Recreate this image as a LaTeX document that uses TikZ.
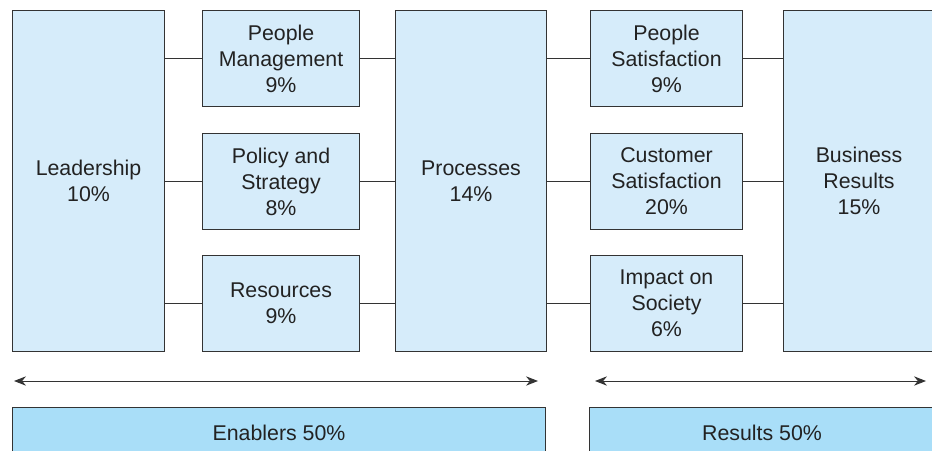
\documentclass[tikz,border=0pt]{standalone}
\usepackage{fontspec}
\setmainfont{Liberation Sans}
\usetikzlibrary{positioning,arrows.meta}
\definecolor{boxblue}{HTML}{D6ECFA}
\definecolor{barblue}{HTML}{A9DEF8}
\definecolor{edgegray}{HTML}{333333}
\definecolor{textgray}{HTML}{222222}
\tikzset{
  critbox/.style={draw=edgegray,fill=boxblue,line width=0.8pt,anchor=north west,inner sep=0pt,align=center,text=textgray,font=\fontsize{16}{19.5}\selectfont},
  barbox/.style={draw=edgegray,fill=barblue,line width=0.8pt,anchor=north west,inner sep=0pt,align=center,text=textgray,font=\fontsize{16}{19.5}\selectfont},
  link/.style={draw=edgegray,line width=0.9pt},
  span/.style={draw=edgegray,line width=0.7pt,{Stealth[length=9pt,width=7pt]}-{Stealth[length=9pt,width=7pt]}}
}
\begin{document}
\begin{tikzpicture}[x=0.75pt,y=0.75pt,yscale=-1,xscale=1]
\useasboundingbox (0,0) rectangle (932,450);
\clip (0,0) rectangle (932,450);

% Enablers
\draw (12,10) node [critbox,minimum width=114pt,minimum height=255.75pt] (lead) {Leadership\\10\%};
\draw (202,10) node [critbox,minimum width=117.75pt,minimum height=72pt] (peopman) {People\\Management\\9\%};
\draw (202,133) node [critbox,minimum width=117.75pt,minimum height=72pt] (policy) {Policy and\\Strategy\\8\%};
\draw (202,255) node [critbox,minimum width=117.75pt,minimum height=72pt] (resrc) {Resources\\9\%};
\draw (395,10) node [critbox,minimum width=113.25pt,minimum height=255.75pt] (proc) {Processes\\14\%};

% Results
\draw (590,10) node [critbox,minimum width=114pt,minimum height=72pt] (peopsat) {People\\Satisfaction\\9\%};
\draw (590,133) node [critbox,minimum width=114pt,minimum height=72pt] (custsat) {Customer\\Satisfaction\\20\%};
\draw (590,255) node [critbox,minimum width=114pt,minimum height=72pt] (society) {Impact on\\Society\\6\%};
\draw (783,10) node [critbox,minimum width=113.25pt,minimum height=255.75pt] (busres) {Business\\Results\\15\%};

% Links
\draw [link] (peopman.west -| lead.east) -- (peopman.west);
\draw [link] (policy.west -| lead.east) -- (policy.west);
\draw [link] (resrc.west -| lead.east) -- (resrc.west);
\draw [link] (peopman.east) -- (peopman.east -| proc.west);
\draw [link] (policy.east) -- (policy.east -| proc.west);
\draw [link] (resrc.east) -- (resrc.east -| proc.west);
\draw [link] (peopsat.west -| proc.east) -- (peopsat.west);
\draw [link] (custsat.west -| proc.east) -- (custsat.west);
\draw [link] (society.west -| proc.east) -- (society.west);
\draw [link] (peopsat.east) -- (peopsat.east -| busres.west);
\draw [link] (custsat.east) -- (custsat.east -| busres.west);
\draw [link] (society.east) -- (society.east -| busres.west);

% Spans
\coordinate (enbL) at (14,381);
\coordinate (enbR) at (538,381);
\coordinate (resL) at (595,381);
\coordinate (resR) at (926,381);
\draw [span] (enbL) -- (enbR);
\draw [span] (resL) -- (resR);

\draw (12,407) node [barbox,minimum width=399.75pt,minimum height=37.5pt] (enabl) {Enablers 50\%};
\draw (589,407) node [barbox,minimum width=258.75pt,minimum height=37.5pt] (results) {Results 50\%};

\end{tikzpicture}
\end{document}
